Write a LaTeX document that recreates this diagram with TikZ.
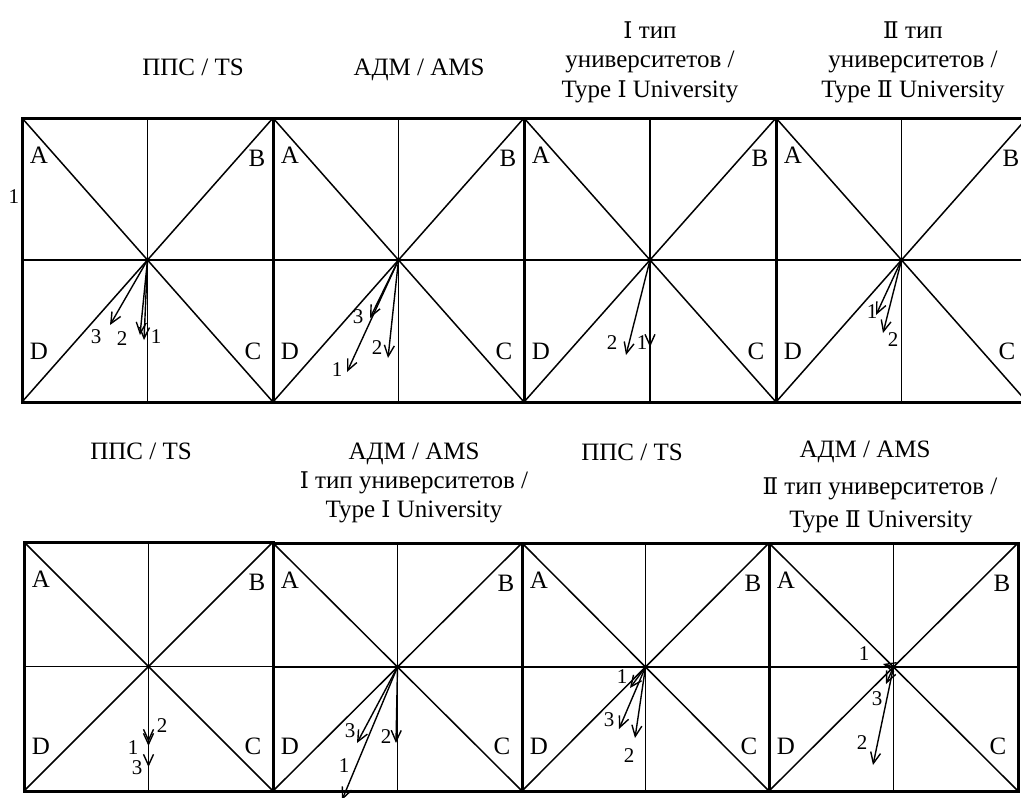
\documentclass[tikz,border=0pt]{standalone}
\usepackage{fontspec}
\setmainfont{Liberation Serif}
\newfontfamily\romfont{DejaVu Serif}[Scale=0.92]
\usetikzlibrary{positioning, calc, arrows.meta}

\begin{document}
\begin{tikzpicture}[x=1pt, y=-1pt,
    frame/.style={line width=3pt},
    grid/.style={line width=1.5pt},
    vec/.style={line width=1.4pt,
      -{Straight Barb[length=11pt, width=10pt, line width=1.4pt]}},
    corner/.style={font=\fontsize{25}{25}\selectfont, inner sep=0pt},
    num/.style={font=\fontsize{21}{21}\selectfont, inner sep=0pt},
    head/.style={font=\fontsize{25}{29.5}\selectfont,
      align=center, anchor=base, inner sep=0pt}]

  \useasboundingbox (0,0) rectangle (1021,798);

  % PANELS

  \foreach \p/\l/\r/\t/\b in {1/22/273/118/402, 2/273/524/118/402,
      3/524/776/118/402, 4/776/1027/118/402,
      5/24/273/542/791, 6/273/522/543/791,
      7/522/769/543/791, 8/769/1018/543/791} {
    \coordinate (c\p) at ({(\l+\r)/2}, {(\t+\b)/2});
    \draw[grid] (\l,\t) -- (\r,\b);
    \draw[grid] (\r,\t) -- (\l,\b);
    \draw[grid] (c\p -| \l,0) -- (c\p -| \r,0);
    \draw[grid] (c\p |- 0,\t) -- (c\p |- 0,\b);
    \draw[frame] (\l,\t) rectangle (\r,\b);
    \node[corner] (A\p) at ({\l+17}, {\t+37}) {A};
    \node[corner] (B\p) at ({\r-16}, {\t+40}) {B};
    \node[corner] (D\p) at ({\l+17}, {\b-0.18*(\b-\t)}) {D};
    \node[corner] (C\p) at ({\r-20}, {\b-0.18*(\b-\t)}) {C};
  }

  \node[num] (side) at (14,197) {1};

  % TITLES (base = last line)

  \node[head] (h1) at (193,75) {ППС / TS};
  \node[head] (h2) at (419,75) {АДМ / AMS};
  \node[head] (h3) at (650,97) {{\romfont Ⅰ} тип\\университетов /\\Type {\romfont Ⅰ} University};
  \node[head] (h4) at (913,97) {{\romfont Ⅱ} тип\\университетов /\\Type {\romfont Ⅱ} University};
  \node[head] (h5) at (141,459) {ППС / TS};
  \node[head, font=\fontsize{25}{29}\selectfont] (h6) at (414,517)
    {АДМ / AMS\\{\romfont Ⅰ} тип университетов /\\Type {\romfont Ⅰ} University};
  \node[head] (h7) at (632,460) {ППС / TS};
  \node[head] (h8a) at (865,457) {АДМ / AMS};
  \node[head] (h8b) at (880,494) {{\romfont Ⅱ} тип университетов /};
  \node[head] (h8c) at (881,527) {Type {\romfont Ⅱ} University};

  % VECTORS

  \coordinate (t1c) at (110,325);
  \coordinate (t1b) at (140,335);
  \coordinate (t1a) at (144,340);
  \draw[vec] (c1) -- (t1c);
  \draw[vec] (c1) -- (t1b);
  \draw[vec] (c1) -- (t1a);
  \node[num] (n1c) at (96,337) {3};
  \node[num] (n1b) at (122,339) {2};
  \node[num] (n1a) at (156,337) {1};

  \coordinate (t2c) at (370,318);
  \coordinate (t2a) at (347,372);
  \coordinate (t2b) at (388,358);
  \draw[vec] (c2) -- (t2c);
  \draw[vec] (c2) -- (t2a);
  \draw[vec] (c2) -- (t2b);
  \node[num] (n2c) at (358,317) {3};
  \node[num] (n2a) at (337,370) {1};
  \node[num] (n2b) at (377,348) {2};

  \coordinate (t3b) at (626,355);
  \coordinate (t3a) at (650,347);
  \draw[vec] (c3) -- (t3b);
  \draw[vec] (c3) -- (t3a);
  \node[num] (n3b) at (612,343) {2};
  \node[num] (n3a) at (642,343) {1};

  \coordinate (t4a) at (876,315);
  \coordinate (t4b) at (883,333);
  \draw[vec] (c4) -- (t4a);
  \draw[vec] (c4) -- (t4b);
  \node[num] (n4a) at (872,312) {1};
  \node[num] (n4b) at (893,340) {2};

  \coordinate (t5b) at (148.5,742);
  \coordinate (t5a) at (148.5,746);
  \coordinate (t5c) at (148.5,767);
  \draw[vec] (c5) -- (t5b);
  \draw[vec] (c5) -- (t5a);
  \draw[vec] (c5) -- (t5c);
  \node[num] (n5b) at (162,726) {2};
  \node[num] (n5a) at (133,748) {1};
  \node[num] (n5c) at (137,768) {3};

  \coordinate (t6c) at (357,743);
  \coordinate (t6b) at (396,743);
  \coordinate (t6a) at (342,800);
  \draw[vec] (c6) -- (t6c);
  \draw[vec] (c6) -- (t6b);
  \draw[vec] (c6) -- (t6a);
  \node[num] (n6c) at (350,731) {3};
  \node[num] (n6b) at (386,737) {2};
  \node[num] (n6a) at (344,766) {1};

  \coordinate (t7a) at (630,688);
  \coordinate (t7c) at (619,729);
  \coordinate (t7b) at (635,738);
  \draw[vec] (c7) -- (t7a);
  \draw[vec] (c7) -- (t7c);
  \draw[vec] (c7) -- (t7b);
  \node[num] (n7a) at (622,677) {1};
  \node[num] (n7c) at (609,720) {3};
  \node[num] (n7b) at (629,756) {2};

  \coordinate (t8a) at (883,664);
  \coordinate (t8c) at (886,684);
  \coordinate (t8b) at (873,765);
  \draw[vec] (c8) -- (t8a);
  \draw[vec] (c8) -- (t8c);
  \draw[vec] (c8) -- (t8b);
  \node[num] (n8a) at (864,654) {1};
  \node[num] (n8c) at (877,699) {3};
  \node[num] (n8b) at (862,743) {2};

\end{tikzpicture}
\end{document}
